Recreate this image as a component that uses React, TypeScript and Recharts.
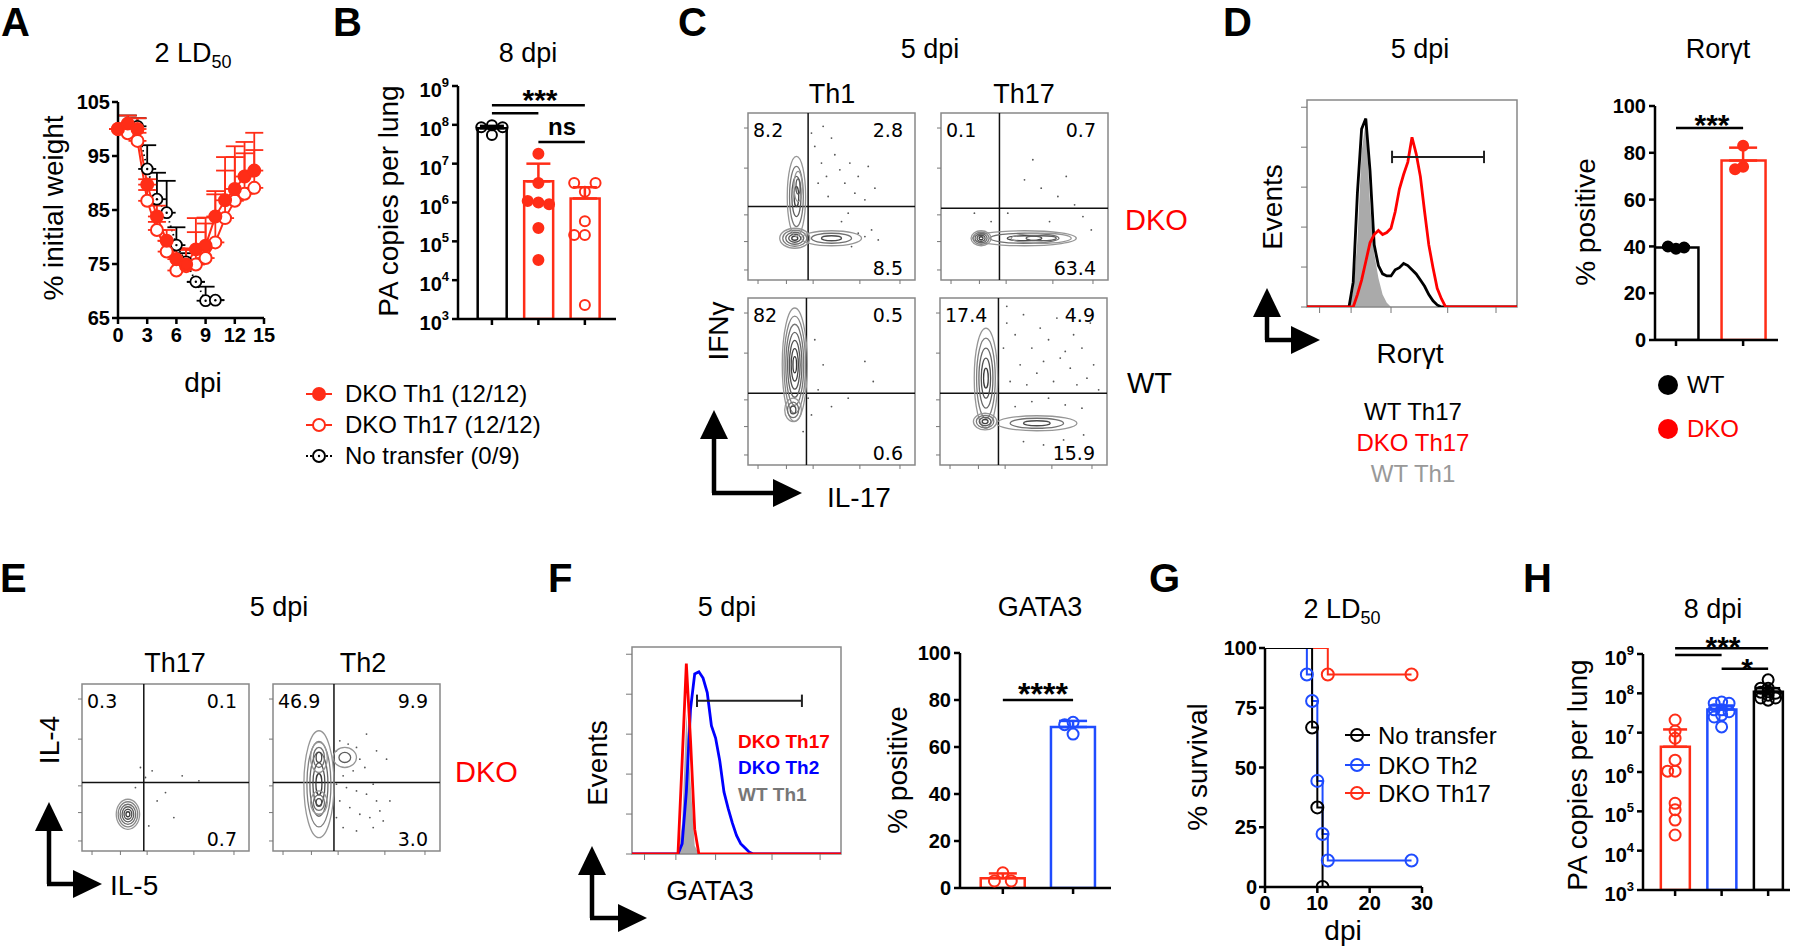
import React from 'react';
import {
  LineChart, Line, XAxis, YAxis, ErrorBar, ComposedChart, Bar, Cell, Scatter,
  ScatterChart, ReferenceLine, ReferenceArea, Area,
} from 'recharts';

const RED = '#ff2d17';
const PURE_RED = '#ff0000';
const BLUE = '#1f4cff';
const PURE_BLUE = '#0000ff';
const FONT = '"Liberation Sans", Arial, sans-serif';
const FLOW_FONT = '"DejaVu Sans", Verdana, sans-serif';

// ---------- A: body weight
const days = [0, 1, 2, 3, 4, 5, 6, 7, 8, 9, 10, 11, 12, 13, 14];
const th1Weight = [100, 101, 100, 89.7, 83.8, 79.3, 75.9, 74.9, 77.7, 78.4, 83.8, 86.8, 88.9, 91.2, 92.3];
const th1Sd = [0, 1.5, 2, 1, 2, 2, 2, 3, 5.8, 5.2, 4.7, 8, 7.9, 6.4, 7];
const th17Weight = [100, 99.2, 97.8, 86.7, 81.3, 77.3, 73.8, 74.6, 74.9, 76.1, 79, 83.5, 86.7, 88, 89.1];
const th17Sd = [0, 1, 1.5, 2, 1.5, 2, 2.5, 3, 6, 6.4, 8.9, 8.8, 8.1, 7.5, 7];
const noTransferWeight = [100, 100.8, 100.5, 92.6, 87, 84.5, 78.5, 75.4, 71.7, 68.2, 68.3];
const noTransferSd = [0, 1.7, 1.5, 4.4, 4.9, 5.9, 3.3, 1.6, 0, 2.6, 0];

// ---------- B: lung PA copies, 8 dpi
const lungMeanB = [8.2e7, 3.5e6, 1.27e6];
const lungSdB = [1.2e7, 6.5e6, 1.2e6];
const lungNoTransferB = [9.8e7, 8.7e7, 8.7e7, 5.5e7];
const lungDkoTh1B = [1.8e7, 3.2e6, 1.0e6, 1.1e6, 9e5, 2.2e5, 3.3e4];
const lungDkoTh17B = [1.9e6, 3.2e6, 3.2e6, 3.3e5, 1.45e5, 1.45e5, 2.3e3];
const logTicks = [1e3, 1e4, 1e5, 1e6, 1e7, 1e8, 1e9];

// ---------- C / E: flow quadrants (gates, percentages, populations, events)
const quadDkoTh1 = ['8.2', '2.8', '8.5'];
const quadDkoTh17 = ['0.1', '0.7', '63.4'];
const quadWtTh1 = ['82', '0.5', '0.6'];
const quadWtTh17 = ['17.4', '4.9', '15.9'];
const quadETh17 = ['0.3', '0.1', '0.7'];
const quadETh2 = ['46.9', '9.9', '3.0'];

const gatesDkoTh1 = [36, 44];
const gatesDkoTh17 = [35, 43];
const gatesWtTh1 = [35, 43];
const gatesWtTh17 = [35, 43];
const gatesETh17 = [37, 41];
const gatesETh2 = [36.5, 41];

const popDkoTh1 = [
  { x: 28, y: 25, rx: 9, ry: 6, n: 5 },
  { x: 29, y: 50, rx: 5.5, ry: 24, n: 4 },
  { x: 30, y: 56, rx: 2.5, ry: 9, n: 2 },
  { x: 50, y: 25, rx: 18, ry: 4.5, n: 3 },
];
const popDkoTh17 = [
  { x: 50, y: 25, rx: 31, ry: 4.5, n: 3 },
  { x: 60, y: 25, rx: 18, ry: 3, n: 2 },
  { x: 24, y: 25, rx: 6, ry: 4.5, n: 5 },
];
const popWtTh1 = [
  { x: 28, y: 60, rx: 7.5, ry: 34, n: 7 },
  { x: 27, y: 33, rx: 5, ry: 7, n: 3 },
];
const popWtTh17 = [
  { x: 27.5, y: 52, rx: 7, ry: 30, n: 5 },
  { x: 27, y: 26, rx: 7, ry: 5, n: 4 },
  { x: 58, y: 25, rx: 24, ry: 4.5, n: 3 },
];
const popETh17 = [{ x: 27.5, y: 22, rx: 7, ry: 9, n: 6 }];
const popETh2 = [
  { x: 27.5, y: 40, rx: 9, ry: 32, n: 5 },
  { x: 27.5, y: 56, rx: 5, ry: 9, n: 3 },
  { x: 27.5, y: 29, rx: 5, ry: 7, n: 3 },
  { x: 43, y: 56, rx: 7, ry: 6, n: 2 },
];

const evDkoTh1 = [[40, 80], [44, 70], [47, 62], [52, 75], [55, 66], [58, 58], [61, 70], [64, 52], [66, 62], [70, 48], [48, 50], [42, 58], [72, 68], [50, 85], [45, 92], [38, 88], [66, 28], [70, 26], [74, 30], [78, 24], [62, 20], [56, 35], [60, 40], [76, 55]];
const evDkoTh17 = [[50, 60], [60, 55], [70, 50], [80, 45], [65, 35], [75, 62], [40, 40], [85, 38], [55, 72], [90, 30], [20, 40], [30, 35]];
const evWtTh1 = [[40, 75], [45, 60], [60, 40], [75, 50], [36, 40], [38, 30], [50, 35], [33, 20], [42, 45], [70, 62]];
const evWtTh17 = [[40, 85], [45, 78], [50, 90], [55, 70], [60, 82], [65, 75], [70, 88], [75, 68], [80, 78], [85, 70], [90, 85], [48, 60], [58, 55], [68, 50], [78, 58], [88, 52], [42, 50], [52, 48], [62, 62], [72, 64], [82, 48], [92, 60], [45, 35], [55, 38], [65, 40], [75, 36], [85, 34], [50, 14], [62, 12], [74, 15], [86, 18], [38, 70], [40, 95], [95, 45]];
const evETh17 = [[38, 44], [42, 48], [35, 50], [45, 30], [50, 35], [60, 45], [70, 42], [55, 20], [40, 15], [32, 38]];
const evETh2 = [[38, 60], [40, 66], [45, 64], [50, 62], [52, 55], [55, 50], [48, 48], [42, 45], [38, 40], [44, 38], [50, 36], [56, 34], [60, 40], [62, 30], [40, 30], [46, 26], [52, 22], [58, 20], [64, 24], [38, 20], [42, 14], [50, 12], [60, 14], [66, 18], [70, 30], [68, 55], [56, 70], [62, 60]];

// ---------- D: Rorgt histogram + % positive
const rorBins = [0, 20, 22, 24, 26, 28, 30, 32, 34, 36, 38, 40, 42, 44, 46, 48, 50, 52, 54, 56, 58, 60, 62, 64, 66, 68, 100];
const rorWtTh17 = [0, 0, 12, 55, 86, 91, 66, 30, 20, 16, 15, 15, 18, 19, 21, 20, 18, 16, 13, 10, 6, 3, 1, 0, 0, 0, 0];
const rorDkoTh17 = [0, 0, 0, 6, 13, 22, 31, 35, 37, 35, 36, 38, 46, 57, 64, 70, 82, 74, 63, 46, 30, 19, 9, 4, 0, 0, 0];
const rorWtTh1 = [0, 0, 8, 32, 75, 90, 50, 26, 14, 6, 2, 0, 0, 0, 0, 0, 0, 0, 0, 0, 0, 0, 0, 0, 0, 0, 0];
const rorMean = [39.5, 76.7];
const rorSd = [0.6, 5.5];
const rorWt = [39, 40, 39.5];
const rorDko = [83, 74, 73];

// ---------- F: GATA3 histogram + % positive
const gataBins = [0, 20, 22, 24, 26, 28, 30, 32, 34, 36, 38, 40, 42, 44, 46, 48, 50, 52, 54, 56, 58, 100];
const gataDkoTh17 = [0, 0, 0, 45, 92, 55, 12, 0, 0, 0, 0, 0, 0, 0, 0, 0, 0, 0, 0, 0, 0, 0];
const gataDkoTh2 = [0, 0, 0, 5, 30, 70, 87, 88, 85, 78, 62, 56, 45, 30, 22, 15, 9, 5, 3, 1, 0, 0];
const gataWtTh1 = [0, 0, 0, 15, 68, 35, 4, 0, 0, 0, 0, 0, 0, 0, 0, 0, 0, 0, 0, 0, 0, 0];
const gataMean = [4.2, 68.5];
const gataSd = [2, 2.6];
const gataTh17 = [6.5, 3, 3];
const gataTh2 = [70.5, 65.5, 69.5];

// ---------- G: survival
const survNoTransfer = [[0, 100], [9, 66.7], [10, 33.3], [11, 0]];
const survDkoTh2 = [[0, 100], [8, 88.9], [9, 77.8], [10, 44.4], [11, 22.2], [12, 11.1], [28, 11.1]];
const survDkoTh17 = [[0, 100], [12, 88.9], [28, 88.9]];

// ---------- H: lung PA copies, 8 dpi
const lungMeanH = [4.37e6, 3.9e7, 1.1e8];
const lungSdH = [7.7e6, 1.0e7, 2.5e7];
const lungDkoTh17H = [2.1e7, 1.1e7, 7.2e6, 2e6, 1.05e6, 1.05e6, 1.6e5, 1.1e5, 6e4, 2.5e4];
const lungDkoTh2H = [6e7, 5.6e7, 5.6e7, 3.8e7, 3.8e7, 3.4e7, 2.8e7, 2.5e7, 1.4e7];
const lungNoTransferH = [2.2e8, 1.35e8, 1.35e8, 1.1e8, 1.07e8, 1e8, 9e7, 7.6e7, 7.6e7, 6.7e7];

// ---------- helpers
const AX = { stroke: '#000', strokeWidth: 2.5 };
const TICKFONT = { fontSize: 20, fontWeight: 700, fill: '#000', fontFamily: FONT };
const blank = () => '';

function swarm(values: number[], near: (a: number, b: number) => boolean, step: number) {
  const order = [0, -1, 1, -2, 2];
  const placed: { v: number; o: number }[] = [];
  return values.map((v) => {
    const used = placed.filter((p) => near(p.v, v)).map((p) => p.o);
    let o = order.find((k) => !used.includes(k));
    if (o === undefined) {
      // everything taken: reuse the least crowded slot
      o = order.reduce((best, k) => (used.filter((u) => u === k).length < used.filter((u) => u === best).length ? k : best), 0);
    }
    placed.push({ v, o });
    return o * step;
  });
}

function PowTick(props: any) {
  const { x, y, payload } = props;
  const e = Math.round(Math.log10(payload.value));
  return (
    <text x={x} y={y + 11} textAnchor="end" fontFamily={FONT} fontWeight={700} fontSize={20} fill="#000">
      10<tspan fontSize={13} dy={-10}>{e}</tspan>
    </text>
  );
}

const pointShape = (color: string, filled: boolean, r: number) => (p: any) => (
  <circle cx={p.cx} cy={p.cy} r={r} fill={filled ? color : 'none'} stroke={color} strokeWidth={2} />
);

type Group = { mean: number; sd: number; pts: number[]; color: string; filled: boolean };
type Sig = { from: number; to: number; y: number };

function ColumnChart(props: {
  left: number; top: number; w: number; h: number; xDomain: [number, number];
  log: boolean; yDomain: [number, number]; yTicks: number[]; groups: Group[];
  barSize: number; r: number; step: number; nearTol: number; sig: Sig[]; yAxisW: number; capW: number;
}) {
  const { left, top, w, h, xDomain, log, yDomain, yTicks, groups, barSize, r, step, nearTol, sig, yAxisW, capW } = props;
  const near = log
    ? (a: number, b: number) => Math.abs(Math.log10(a) - Math.log10(b)) < nearTol
    : (a: number, b: number) => Math.abs(a - b) < nearTol;
  const rows = groups.map((g, i) => ({ x: i + 1, v: g.mean, err: [0, g.sd] }));
  const pts = groups.map((g, i) => {
    const off = swarm(g.pts, near, step);
    return g.pts.map((v, j) => ({ x: i + 1 + off[j], v }));
  });
  const mt = 20, mr = 14, xh = 16;
  return (
    <div style={{ position: 'absolute', left: left - yAxisW, top: top - mt }}>
      <ComposedChart width={yAxisW + w + mr} height={mt + h + xh} data={rows} margin={{ top: mt, right: mr, bottom: 0, left: 0 }}>
        <XAxis type="number" dataKey="x" domain={xDomain} ticks={groups.map((_, i) => i + 1)} tickFormatter={blank}
          height={xh} tickSize={6} axisLine={AX} tickLine={AX} allowDataOverflow interval={0} />
        <XAxis xAxisId="pts" type="number" dataKey="x" domain={xDomain} hide allowDataOverflow />
        <YAxis type="number" dataKey="v" scale={log ? 'log' : 'linear'} domain={yDomain} ticks={yTicks}
          tick={log ? <PowTick /> : TICKFONT} width={yAxisW} tickSize={6} tickMargin={3} axisLine={AX} tickLine={AX}
          allowDataOverflow interval={0} />
        <Bar dataKey="v" barSize={barSize} isAnimationActive={false} strokeWidth={2.5}>
          {groups.map((g, i) => <Cell key={i} fill="#fff" stroke={g.color} strokeWidth={2.5} />)}
        </Bar>
        {groups.map((g, i) => (
          <Scatter key={'e' + i} xAxisId="pts" data={[rows[i]]} shape={() => <g />} isAnimationActive={false}>
            <ErrorBar dataKey="err" direction="y" width={capW} stroke={g.color} strokeWidth={2.5} />
          </Scatter>
        ))}
        {groups.map((g, i) => (
          <Scatter key={'p' + i} xAxisId="pts" data={pts[i]} shape={pointShape(g.color, g.filled, r)} isAnimationActive={false} />
        ))}
        {sig.map((s, k) => (
          <ReferenceLine key={'s' + k} segment={[{ x: s.from, y: s.y }, { x: s.to, y: s.y }]} stroke="#000" strokeWidth={2.5} ifOverflow="visible" />
        ))}
      </ComposedChart>
    </div>
  );
}

// ---------- flow contour plots
const FLOW = 167;
const FLOW_TICKS = [6, 23, 39, 67, 91];
const eventDot = (p: any) => <circle cx={p.cx} cy={p.cy} r={0.9} fill="#555" />;
const contour = (scale: number) => (p: any) => {
  const { cx, cy, payload } = p;
  const rings = [];
  for (let k = payload.n; k >= 1; k--) {
    const f = k / payload.n;
    const g = Math.round(35 + 115 * f);
    rings.push(
      <ellipse key={k} cx={cx} cy={cy} rx={payload.rx * scale * f} ry={payload.ry * scale * f}
        fill="none" stroke={`rgb(${g},${g},${g})`} strokeWidth={1.3} />,
    );
  }
  return <g>{rings}</g>;
};

function FlowPlot({ left, top, gates, pops, events }: any) {
  const ev = events.map((e: number[]) => ({ x: e[0], y: e[1] }));
  return (
    <div style={{ position: 'absolute', left: left - 6, top: top - 2 }}>
      <ScatterChart width={FLOW + 8} height={FLOW + 8} margin={{ top: 2, right: 2, bottom: 0, left: 0 }}>
        <XAxis type="number" dataKey="x" domain={[0, 100]} ticks={FLOW_TICKS} tickFormatter={blank} height={6} tickSize={4}
          axisLine={false} tickLine={{ stroke: '#777' }} allowDataOverflow interval={0} />
        <YAxis type="number" dataKey="y" domain={[0, 100]} ticks={FLOW_TICKS} tickFormatter={blank} width={6} tickSize={4}
          axisLine={false} tickLine={{ stroke: '#777' }} allowDataOverflow interval={0} />
        <ReferenceArea x1={0} x2={100} y1={0} y2={100} fill="#fff" fillOpacity={0} stroke="#888" strokeWidth={1.5} />
        <Scatter data={ev} shape={eventDot} isAnimationActive={false} />
        <Scatter data={pops} shape={contour(FLOW / 100)} isAnimationActive={false} />
        <ReferenceLine x={gates[0]} stroke="#111" strokeWidth={1.5} />
        <ReferenceLine y={gates[1]} stroke="#111" strokeWidth={1.5} />
      </ScatterChart>
    </div>
  );
}

// ---------- histograms
const HIST_X_TICKS = [6, 21, 40, 67, 90];
const HIST_Y_TICKS = [0, 19.3, 38.6, 57.9, 77.2, 96.5];

function Histogram({ left, top, w, h, rows, fillKey, lines, gate }: any) {
  return (
    <div style={{ position: 'absolute', left: left - 8, top: top - 2 }}>
      <ComposedChart width={w + 10} height={h + 10} data={rows} margin={{ top: 2, right: 2, bottom: 0, left: 0 }}>
        <XAxis type="number" dataKey="x" domain={[0, 100]} ticks={HIST_X_TICKS} tickFormatter={blank} height={8} tickSize={6}
          axisLine={false} tickLine={{ stroke: '#777' }} allowDataOverflow interval={0} />
        <YAxis type="number" domain={[0, 100]} ticks={HIST_Y_TICKS} tickFormatter={blank} width={8} tickSize={6}
          axisLine={false} tickLine={{ stroke: '#777' }} allowDataOverflow interval={0} />
        <Area type="linear" dataKey={fillKey} fill="#aaa" fillOpacity={1} stroke="none" isAnimationActive={false} />
        {lines.map((l: any) => (
          <Line key={l.key} type="linear" dataKey={l.key} stroke={l.color} strokeWidth={2.8} dot={false} isAnimationActive={false} />
        ))}
        <ReferenceArea x1={0} x2={100} y1={0} y2={100} fill="#fff" fillOpacity={0} stroke="#888" strokeWidth={1.5} />
        <ReferenceLine segment={[{ x: gate[0], y: gate[2] }, { x: gate[1], y: gate[2] }]} stroke="#222" strokeWidth={2} />
        <ReferenceLine segment={[{ x: gate[0], y: gate[2] - 3 }, { x: gate[0], y: gate[2] + 3 }]} stroke="#222" strokeWidth={2} />
        <ReferenceLine segment={[{ x: gate[1], y: gate[2] - 3 }, { x: gate[1], y: gate[2] + 3 }]} stroke="#222" strokeWidth={2} />
      </ComposedChart>
    </div>
  );
}

// ---------- dots for line charts
const weightDot = (color: string, filled: boolean) => (p: any) =>
  p.cy == null ? <g key={p.index} /> : (
    <circle key={p.index} cx={p.cx} cy={p.cy} r={6} fill={filled ? color : '#fff'} stroke={color} strokeWidth={2} />
  );
const ntDot = (p: any) =>
  p.cy == null ? <g key={p.index} /> : (
    <g key={p.index}>
      <circle cx={p.cx} cy={p.cy} r={5.5} fill="#fff" stroke="#000" strokeWidth={1.8} />
      <circle cx={p.cx} cy={p.cy} r={1.2} fill="#000" />
    </g>
  );
const survDot = (color: string) => (p: any) =>
  p.index === 0 || p.cy == null ? <g key={p.index} /> : (
    <circle key={p.index} cx={p.cx} cy={p.cy} r={6} fill="none" stroke={color} strokeWidth={2} />
  );

// ---------- overlay text
function Txt({ x, y, s = 27, a = 'middle', w = 400, c = '#000', rot = false, f = FONT, children }: any) {
  return (
    <text x={x} y={y} fontSize={s} textAnchor={a} fontWeight={w} fill={c} fontFamily={f}
      transform={rot ? `rotate(-90 ${x} ${y})` : undefined} dominantBaseline={rot ? 'central' : undefined}>
      {children}
    </text>
  );
}
const Letter = ({ x, y, children }: any) => <Txt x={x} y={y} s={40} a="start" w={700}>{children}</Txt>;

function Quad({ left, top, q }: any) {
  return (
    <g>
      <Txt x={left + 5} y={top + 24} s={19} a="start" f={FLOW_FONT}>{q[0]}</Txt>
      <Txt x={left + 155} y={top + 24} s={19} a="end" f={FLOW_FONT}>{q[1]}</Txt>
      <Txt x={left + 155} y={top + 162} s={19} a="end" f={FLOW_FONT}>{q[2]}</Txt>
    </g>
  );
}

function Arrow({ x, y, up, right }: any) {
  return (
    <g>
      <path d={`M${x} ${y} V${up + 28} M${x - 2} ${y} H${right - 28}`} stroke="#000" strokeWidth={4.5} fill="none" />
      <polygon points={`${x - 14},${up + 29} ${x + 14},${up + 29} ${x},${up}`} fill="#000" />
      <polygon points={`${right - 29},${y - 14} ${right - 29},${y + 14} ${right},${y}`} fill="#000" />
    </g>
  );
}

const LegendMark = ({ x, y, color, filled, dotted, inner }: any) => (
  <g>
    <line x1={x - 13} x2={x + 13} y1={y} y2={y} stroke={color} strokeWidth={2} strokeDasharray={dotted ? '2 2' : undefined} />
    <circle cx={x} cy={y} r={6} fill={filled ? color : '#fff'} stroke={color} strokeWidth={2} />
    {inner && <circle cx={x} cy={y} r={1.2} fill={color} />}
  </g>
);

export default function App() {
  const weightRows = days.map((d, i) => ({
    day: d,
    th1: th1Weight[i], th1Err: [0, th1Sd[i]],
    th17: th17Weight[i], th17Err: [0, th17Sd[i]],
    nt: i < noTransferWeight.length ? noTransferWeight[i] : null,
    ntErr: i < noTransferWeight.length ? [0, noTransferSd[i]] : null,
  }));
  const rorRows = rorBins.map((x, i) => ({ x, black: rorWtTh17[i], red: rorDkoTh17[i], gray: rorWtTh1[i] }));
  const gataRows = gataBins.map((x, i) => ({ x, red: gataDkoTh17[i], blue: gataDkoTh2[i], gray: gataWtTh1[i] }));
  const surv = (s: number[][]) => s.map(([t, v]) => ({ t, s: v }));

  return (
    <div style={{ position: 'absolute', left: 0, top: 0, width: 1800, height: 951, background: '#fff', fontFamily: FONT }}>
      {/* A */}
      <div style={{ position: 'absolute', left: 118 - 58, top: 102 - 12 }}>
        <LineChart width={58 + 146 + 20} height={12 + 216 + 40} data={weightRows} margin={{ top: 12, right: 20, bottom: 0, left: 0 }}>
          <XAxis type="number" dataKey="day" domain={[0, 15]} ticks={[0, 3, 6, 9, 12, 15]} height={40} tickSize={6} tickMargin={4}
            axisLine={AX} tickLine={AX} tick={TICKFONT} interval={0} />
          <YAxis type="number" domain={[65, 105]} ticks={[65, 75, 85, 95, 105]} width={58} tickSize={6} tickMargin={2}
            axisLine={AX} tickLine={AX} tick={TICKFONT} interval={0} />
          <Line dataKey="nt" stroke="#000" strokeWidth={1.8} strokeDasharray="1.5 3" dot={ntDot} isAnimationActive={false}>
            <ErrorBar dataKey="ntErr" width={9} stroke="#000" strokeWidth={1.8} direction="y" />
          </Line>
          <Line dataKey="th17" stroke={RED} strokeWidth={2} dot={weightDot(RED, false)} isAnimationActive={false}>
            <ErrorBar dataKey="th17Err" width={9} stroke={RED} strokeWidth={1.8} direction="y" />
          </Line>
          <Line dataKey="th1" stroke={RED} strokeWidth={2} dot={weightDot(RED, true)} isAnimationActive={false}>
            <ErrorBar dataKey="th1Err" width={9} stroke={RED} strokeWidth={1.8} direction="y" />
          </Line>
        </LineChart>
      </div>

      {/* B */}
      <ColumnChart left={458} top={86} w={158} h={233} xDomain={[0.27, 3.67]} log yDomain={[1e3, 1e9]} yTicks={logTicks}
        barSize={29} r={5} step={0.23} nearTol={0.25} yAxisW={52} capW={12}
        groups={[
          { mean: lungMeanB[0], sd: lungSdB[0], pts: lungNoTransferB, color: '#000', filled: false },
          { mean: lungMeanB[1], sd: lungSdB[1], pts: lungDkoTh1B, color: RED, filled: true },
          { mean: lungMeanB[2], sd: lungSdB[2], pts: lungDkoTh17B, color: RED, filled: false },
        ]}
        sig={[{ from: 1, to: 3, y: 3.2e8 }, { from: 1, to: 2, y: 2e8 }, { from: 2, to: 3, y: 3.6e7 }]} />

      {/* C */}
      <FlowPlot left={748} top={113} gates={gatesDkoTh1} pops={popDkoTh1} events={evDkoTh1} />
      <FlowPlot left={941} top={113} gates={gatesDkoTh17} pops={popDkoTh17} events={evDkoTh17} />
      <FlowPlot left={748} top={298} gates={gatesWtTh1} pops={popWtTh1} events={evWtTh1} />
      <FlowPlot left={940} top={298} gates={gatesWtTh17} pops={popWtTh17} events={evWtTh17} />

      {/* D */}
      <Histogram left={1307} top={100} w={210} h={207} rows={rorRows} fillKey="gray"
        lines={[{ key: 'black', color: '#000' }, { key: 'red', color: PURE_RED }]} gate={[40.5, 84.3, 72.5]} />
      <ColumnChart left={1655} top={106} w={123} h={234} xDomain={[0.687, 2.52]} log={false} yDomain={[0, 100]}
        yTicks={[0, 20, 40, 60, 80, 100]} barSize={44} r={5} step={0.12} nearTol={4} yAxisW={52} capW={14}
        groups={[
          { mean: rorMean[0], sd: rorSd[0], pts: rorWt, color: '#000', filled: true },
          { mean: rorMean[1], sd: rorSd[1], pts: rorDko, color: RED, filled: true },
        ]}
        sig={[{ from: 1, to: 2, y: 90.6 }]} />

      {/* E */}
      <FlowPlot left={82} top={684} gates={gatesETh17} pops={popETh17} events={evETh17} />
      <FlowPlot left={273} top={684} gates={gatesETh2} pops={popETh2} events={evETh2} />

      {/* F */}
      <Histogram left={632} top={647} w={209} h={207} rows={gataRows} fillKey="gray"
        lines={[{ key: 'blue', color: PURE_BLUE }, { key: 'red', color: PURE_RED }]} gate={[31.1, 81.3, 74]} />
      <ColumnChart left={960} top={653} w={151} h={235} xDomain={[0.39, 2.54]} log={false} yDomain={[0, 100]}
        yTicks={[0, 20, 40, 60, 80, 100]} barSize={44} r={5.5} step={0.12} nearTol={4} yAxisW={52} capW={14}
        groups={[
          { mean: gataMean[0], sd: gataSd[0], pts: gataTh17, color: RED, filled: false },
          { mean: gataMean[1], sd: gataSd[1], pts: gataTh2, color: BLUE, filled: false },
        ]}
        sig={[{ from: 1, to: 2, y: 80 }]} />

      {/* G */}
      <div style={{ position: 'absolute', left: 1265 - 58, top: 648 - 12 }}>
        <LineChart width={58 + 157 + 20} height={12 + 239 + 36} margin={{ top: 12, right: 20, bottom: 0, left: 0 }}>
          <XAxis type="number" dataKey="t" domain={[0, 30]} ticks={[0, 10, 20, 30]} height={36} tickSize={6} tickMargin={3}
            axisLine={AX} tickLine={AX} tick={TICKFONT} interval={0} allowDataOverflow />
          <YAxis type="number" domain={[0, 100]} ticks={[0, 25, 50, 75, 100]} width={58} tickSize={6} tickMargin={2}
            axisLine={AX} tickLine={AX} tick={TICKFONT} interval={0} allowDataOverflow />
          <Line data={surv(survDkoTh2)} dataKey="s" type="stepAfter" stroke={BLUE} strokeWidth={2} dot={survDot(BLUE)} isAnimationActive={false} />
          <Line data={surv(survDkoTh17)} dataKey="s" type="stepAfter" stroke={RED} strokeWidth={2} dot={survDot(RED)} isAnimationActive={false} />
          <Line data={surv(survNoTransfer)} dataKey="s" type="stepAfter" stroke="#000" strokeWidth={2} dot={survDot('#000')} isAnimationActive={false} />
        </LineChart>
      </div>

      {/* H */}
      <ColumnChart left={1643} top={654} w={147} h={236} xDomain={[0.31, 3.47]} log yDomain={[1e3, 1e9]} yTicks={logTicks}
        barSize={29} r={5.5} step={0.16} nearTol={0.08} yAxisW={52} capW={12}
        groups={[
          { mean: lungMeanH[0], sd: lungSdH[0], pts: lungDkoTh17H, color: RED, filled: false },
          { mean: lungMeanH[1], sd: lungSdH[1], pts: lungDkoTh2H, color: BLUE, filled: false },
          { mean: lungMeanH[2], sd: lungSdH[2], pts: lungNoTransferH, color: '#000', filled: false },
        ]}
        sig={[{ from: 1, to: 3, y: 1.4e9 }, { from: 1, to: 2, y: 9.4e8 }, { from: 2, to: 3, y: 4.2e8 }]} />

      {/* overlay text */}
      <svg width={1800} height={951} style={{ position: 'absolute', left: 0, top: 0, pointerEvents: 'none' }}>
        {/* A */}
        <Letter x={1} y={36}>A</Letter>
        <Txt x={193} y={62}>2 LD<tspan fontSize={18} dy={6}>50</tspan></Txt>
        <Txt x={53} y={208} s={28} rot>% initial weight</Txt>
        <Txt x={203} y={392} s={28}>dpi</Txt>
        <LegendMark x={319} y={394} color={RED} filled />
        <Txt x={345} y={402} s={24} a="start">DKO Th1 (12/12)</Txt>
        <LegendMark x={319} y={425} color={RED} />
        <Txt x={345} y={433} s={24} a="start">DKO Th17 (12/12)</Txt>
        <LegendMark x={319} y={456} color="#000" dotted inner />
        <Txt x={345} y={464} s={24} a="start">No transfer (0/9)</Txt>

        {/* B */}
        <Letter x={333} y={36}>B</Letter>
        <Txt x={528} y={62}>8 dpi</Txt>
        <Txt x={388} y={201} s={28} rot>PA copies per lung</Txt>
        <Txt x={540} y={110} s={30} w={700}>***</Txt>
        <Txt x={562} y={135} s={24} w={700}>ns</Txt>

        {/* C */}
        <Letter x={678} y={36}>C</Letter>
        <Txt x={930} y={58}>5 dpi</Txt>
        <Txt x={832} y={103}>Th1</Txt>
        <Txt x={1024} y={103}>Th17</Txt>
        <Quad left={748} top={113} q={quadDkoTh1} />
        <Quad left={941} top={113} q={quadDkoTh17} />
        <Quad left={748} top={298} q={quadWtTh1} />
        <Quad left={940} top={298} q={quadWtTh17} />
        <Txt x={1125} y={230} s={29} a="start" c={PURE_RED}>DKO</Txt>
        <Txt x={1127} y={393} s={29} a="start">WT</Txt>
        <Txt x={718} y={331} s={28} rot>IFNγ</Txt>
        <Txt x={827} y={507} s={28} a="start">IL-17</Txt>
        <Arrow x={714} y={493} up={410} right={802} />

        {/* D */}
        <Letter x={1223} y={36}>D</Letter>
        <Txt x={1420} y={58}>5 dpi</Txt>
        <Txt x={1718} y={58}>Rorγt</Txt>
        <Txt x={1272} y={207} s={28} rot>Events</Txt>
        <Arrow x={1267} y={340} up={288} right={1320} />
        <Txt x={1410} y={363} s={28}>Rorγt</Txt>
        <Txt x={1413} y={420} s={24}>WT Th17</Txt>
        <Txt x={1413} y={451} s={24} c={PURE_RED}>DKO Th17</Txt>
        <Txt x={1413} y={482} s={24} c="#999">WT Th1</Txt>
        <Txt x={1585} y={222} s={28} rot>% positive</Txt>
        <Txt x={1712} y={135} s={30} w={700}>***</Txt>
        <circle cx={1668} cy={385} r={10} fill="#000" />
        <Txt x={1687} y={393} s={24} a="start">WT</Txt>
        <circle cx={1668} cy={429} r={10} fill={PURE_RED} />
        <Txt x={1687} y={437} s={24} a="start" c={PURE_RED}>DKO</Txt>

        {/* E */}
        <Letter x={0} y={592}>E</Letter>
        <Txt x={279} y={616}>5 dpi</Txt>
        <Txt x={175} y={672}>Th17</Txt>
        <Txt x={363} y={672}>Th2</Txt>
        <Quad left={82} top={684} q={quadETh17} />
        <Quad left={273} top={684} q={quadETh2} />
        <Txt x={455} y={782} s={29} a="start" c={PURE_RED}>DKO</Txt>
        <Txt x={49} y={740} s={28} rot>IL-4</Txt>
        <Arrow x={49} y={884} up={802} right={102} />
        <Txt x={110} y={895} s={28} a="start">IL-5</Txt>

        {/* F */}
        <Letter x={548} y={592}>F</Letter>
        <Txt x={727} y={616}>5 dpi</Txt>
        <Txt x={738} y={748} s={19} a="start" w={700} c={PURE_RED}>DKO Th17</Txt>
        <Txt x={738} y={774} s={19} a="start" w={700} c={PURE_BLUE}>DKO Th2</Txt>
        <Txt x={738} y={801} s={19} a="start" w={700} c="#777">WT Th1</Txt>
        <Txt x={597} y={763} s={28} rot>Events</Txt>
        <Arrow x={592} y={918} up={846} right={647} />
        <Txt x={710} y={900} s={28}>GATA3</Txt>
        <Txt x={1040} y={616}>GATA3</Txt>
        <Txt x={897} y={770} s={28} rot>% positive</Txt>
        <Txt x={1043} y={705} s={32} w={700}>****</Txt>

        {/* G */}
        <Letter x={1149} y={592}>G</Letter>
        <Txt x={1342} y={618}>2 LD<tspan fontSize={18} dy={6}>50</tspan></Txt>
        <Txt x={1197} y={767} s={28} rot>% survival</Txt>
        <Txt x={1343} y={940} s={28}>dpi</Txt>
        <line x1={1345} x2={1370} y1={735} y2={735} stroke="#000" strokeWidth={2} />
        <circle cx={1357} cy={735} r={6} fill="none" stroke="#000" strokeWidth={2} />
        <Txt x={1378} y={744} s={24} a="start">No transfer</Txt>
        <line x1={1345} x2={1370} y1={765} y2={765} stroke={BLUE} strokeWidth={2} />
        <circle cx={1357} cy={765} r={6} fill="none" stroke={BLUE} strokeWidth={2} />
        <Txt x={1378} y={774} s={24} a="start">DKO Th2</Txt>
        <line x1={1345} x2={1370} y1={793} y2={793} stroke={RED} strokeWidth={2} />
        <circle cx={1357} cy={793} r={6} fill="none" stroke={RED} strokeWidth={2} />
        <Txt x={1378} y={802} s={24} a="start">DKO Th17</Txt>

        {/* H */}
        <Letter x={1523} y={592}>H</Letter>
        <Txt x={1713} y={618}>8 dpi</Txt>
        <Txt x={1577} y={775} s={28} rot>PA copies per lung</Txt>
        <Txt x={1723} y={657} s={30} w={700}>***</Txt>
        <Txt x={1747} y={679} s={30} w={700}>*</Txt>
      </svg>
    </div>
  );
}
